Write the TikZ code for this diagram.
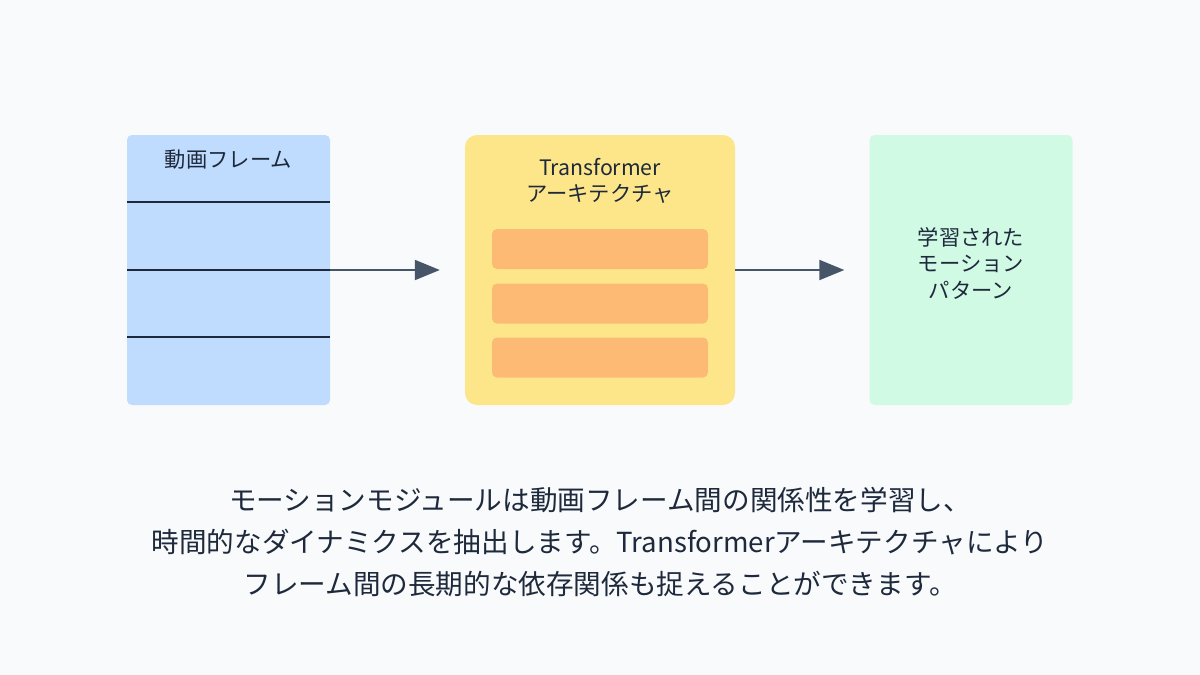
\documentclass[tikz,border=0pt]{standalone}
\usepackage{fontspec}
\setmainfont{Noto Sans CJK JP}
\usetikzlibrary{arrows.meta,positioning}
\definecolor{bgcol}{HTML}{F8FAFC}
\definecolor{frameblue}{HTML}{BFDBFE}
\definecolor{archyellow}{HTML}{FDE68A}
\definecolor{layerorange}{HTML}{FDBA74}
\definecolor{motiongreen}{HTML}{D1FAE5}
\definecolor{slate}{HTML}{475569}
\definecolor{ink}{HTML}{1E293B}
\tikzset{
  panel/.style={rounded corners=5pt, minimum width=203pt, minimum height=270pt, inner sep=0pt},
  layer/.style={fill=layerorange, rounded corners=5pt, minimum width=216pt, minimum height=40pt, inner sep=0pt},
  label/.style={text=ink, font=\fontsize{21.3}{26.5}\selectfont, align=center},
  flow/.style={draw=slate, line width=2pt, -{Triangle[length=25pt,width=20pt]}, shorten >=25pt},
  sep/.style={draw=ink, line width=1.2pt}
}
\begin{document}
\begin{tikzpicture}[x=1pt, y=-1pt]
  \fill[bgcol] (0,0) rectangle (1200,675);
  \useasboundingbox (0,0) rectangle (1200,675);
  % boxes
  \node[panel, fill=frameblue] (frames) at (228.5,270) {};
  \node[panel, fill=archyellow, minimum width=270pt, rounded corners=12pt] (arch) at (600,270) {};
  \node[panel, fill=motiongreen] (motion) at (971,270) {};
  % frame box
  \node[label] (framestitle) at (228.5,160) {動画フレーム};
  \foreach \y/\n in {202/a, 270/b, 337/c} {
    \coordinate (sepl\n) at (frames.west |- 0,\y);
    \coordinate (sepr\n) at (frames.east |- 0,\y);
    \draw[sep] (sepl\n) -- (sepr\n);
  }
  % transformer box
  \node[label] (archtitle) at (600,181) {Transformer\\アーキテクチャ};
  \foreach \y/\n in {249/1, 303.5/2, 357.5/3}
    \node[layer] (layer\n) at (600,\y) {};
  % output box
  \node[label] (motiontitle) at (971,263) {学習された\\モーション\\パターン};
  % arrows
  \draw[flow] (frames.east) -- (arch.west);
  \draw[flow] (arch.east) -- (motion.west);
  % caption
  \node[text=ink, font=\fontsize{27.6}{42}\selectfont, align=center] (caption) at (600,542)
    {モーションモジュールは動画フレーム間の関係性を学習し、\\
     時間的なダイナミクスを抽出します。Transformerアーキテクチャにより\\
     フレーム間の長期的な依存関係も捉えることができます。};
\end{tikzpicture}
\end{document}
